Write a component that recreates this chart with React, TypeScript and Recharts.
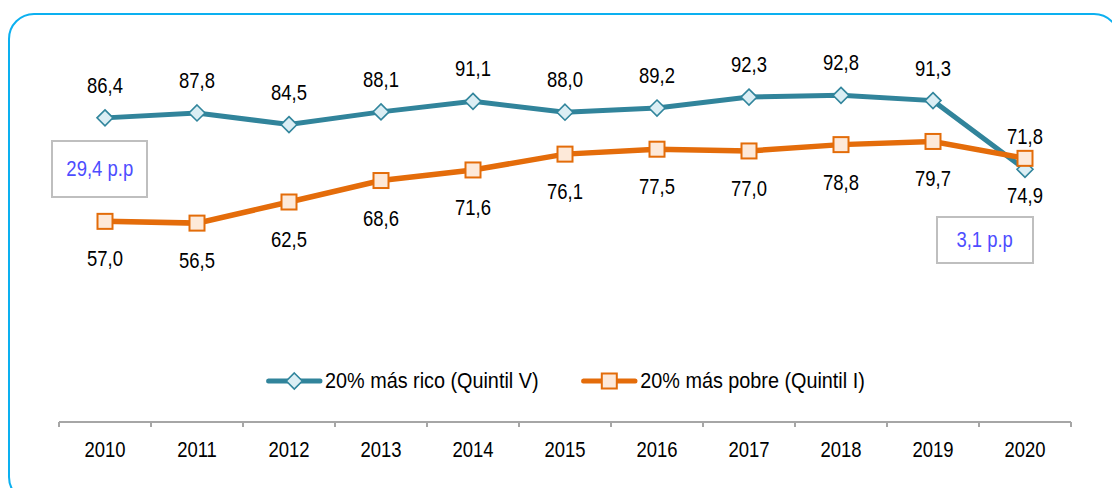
import React from "react";
import { LineChart, Line, XAxis, YAxis, Legend, LabelList } from "recharts";

const years = ["2010", "2011", "2012", "2013", "2014", "2015", "2016", "2017", "2018", "2019", "2020"];
const rico = [86.4, 87.8, 84.5, 88.1, 91.1, 88.0, 89.2, 92.3, 92.8, 91.3, 71.8];
const pobre = [57.0, 56.5, 62.5, 68.6, 71.6, 76.1, 77.5, 77.0, 78.8, 79.7, 74.9];
const seriesNames = ["20% más rico (Quintil V)", "20% más pobre (Quintil I)"];
const gapNotes = ["29,4 p.p", "3,1 p.p"];

const data = years.map((year, i) => ({ idx: i, year, rico: rico[i], pobre: pobre[i] }));
const labelTicks = years.map((_, i) => i);
const boundaryTicks = [...years.map((_, i) => i - 0.5), years.length - 0.5];

// no Arial Narrow here, so Liberation Sans squeezed horizontally
const FONT = "'Liberation Sans', Arial, sans-serif";
const SQUEEZE = 0.84;
const LEGEND_SQUEEZE = 0.9;
const FS = 22;
const RICO_LINE = "#31849b";
const RICO_STROKE = "#31859c";
const RICO_FILL = "#dbeef4";
const POBRE_LINE = "#e46c0a";
const POBRE_STROKE = "#e36c09";
const POBRE_FILL = "#fde9d9";

const fmt = (v: any) => Number(v).toFixed(1).replace(".", ",");

const NarrowText = ({ x, y, children, fill = "#000" }: any) => (
  <text
    x={0}
    y={0}
    textAnchor="middle"
    fill={fill}
    fontSize={FS}
    fontFamily={FONT}
    transform={`translate(${x},${y}) scale(${SQUEEZE},1)`}
  >
    {children}
  </text>
);

const RicoLabel = ({ x, y, value }: any) => <NarrowText x={x} y={y - 25}>{fmt(value)}</NarrowText>;
const PobreLabel = ({ x, y, value }: any) => <NarrowText x={x} y={y + 45}>{fmt(value)}</NarrowText>;
const YearTick = ({ x, y, payload }: any) => <NarrowText x={x} y={y + 15}>{years[payload.value]}</NarrowText>;

const Diamond = ({ cx, cy }: any) => {
  if (cx == null || cy == null) return null;
  const r = 8;
  return (
    <path
      d={`M${cx},${cy - r} L${cx + r},${cy} L${cx},${cy + r} L${cx - r},${cy} Z`}
      fill={RICO_FILL}
      stroke={RICO_STROKE}
      strokeWidth={1.6}
    />
  );
};

const Square = ({ cx, cy }: any) => {
  if (cx == null || cy == null) return null;
  const h = 7.5;
  return <rect x={cx - h} y={cy - h} width={h * 2} height={h * 2} fill={POBRE_FILL} stroke={POBRE_STROKE} strokeWidth={2} />;
};

const LegendContent = () => {
  const k = 1 / LEGEND_SQUEEZE;
  return (
    <div
      style={{
        display: "flex",
        justifyContent: "center",
        gap: 42 * k,
        fontFamily: FONT,
        fontSize: FS,
        color: "#000",
        transform: `scaleX(${LEGEND_SQUEEZE})`,
        transformOrigin: "center",
      }}
    >
      {seriesNames.map((name, i) => (
        <div key={name} style={{ display: "flex", alignItems: "center" }}>
          <svg width={58 * k} height={20}>
            <line x1={3 * k} y1={10} x2={55 * k} y2={10} stroke={i === 0 ? RICO_LINE : POBRE_LINE} strokeWidth={5} strokeLinecap="round" />
            <g transform={`translate(${29 * k},10) scale(${k},1)`}>
              {i === 0 ? <Diamond cx={0} cy={0} /> : <Square cx={0} cy={0} />}
            </g>
          </svg>
          <span style={{ marginLeft: 2 }}>{name}</span>
        </div>
      ))}
    </div>
  );
};

const noteBox: React.CSSProperties = {
  position: "absolute",
  border: "2px solid #bfbfbf",
  boxSizing: "border-box",
  display: "flex",
  alignItems: "center",
  justifyContent: "center",
  color: "#4d4dff",
  fontFamily: FONT,
  fontSize: FS,
  background: "#fff",
};

export default function App() {
  return (
    <div style={{ position: "absolute", left: 0, top: 0, width: 1112, height: 488, overflow: "hidden", background: "#fff" }}>
      <div
        style={{
          position: "absolute",
          left: 8,
          top: 13,
          width: 1112,
          height: 490,
          border: "2px solid #0cb0f0",
          borderRadius: 26,
          boxSizing: "border-box",
        }}
      />
      <LineChart width={1112} height={488} data={data} margin={{ top: 70, right: 41, left: 59, bottom: 35 }} style={{ position: "absolute", left: 0, top: 0 }}>
        <YAxis hide domain={[0, 100]} />
        <XAxis
          xAxisId="grid"
          type="number"
          dataKey="idx"
          domain={[-0.5, years.length - 0.5]}
          ticks={boundaryTicks}
          interval={0}
          height={1}
          tick={() => <g />}
          tickSize={5}
          axisLine={{ stroke: "#a6a6a6", strokeWidth: 2 }}
          tickLine={{ stroke: "#a6a6a6", strokeWidth: 2 }}
        />
        <XAxis
          xAxisId="years"
          type="number"
          dataKey="idx"
          domain={[-0.5, years.length - 0.5]}
          ticks={labelTicks}
          interval={0}
          height={30}
          axisLine={false}
          tickLine={false}
          tickSize={0}
          tickMargin={19}
          tick={<YearTick />}
        />
        <Legend
          verticalAlign="middle"
          align="center"
          content={<LegendContent />}
          wrapperStyle={{ top: 368, left: 59, width: 1012 }}
        />
        <Line
          xAxisId="years"
          dataKey="rico"
          name={seriesNames[0]}
          stroke={RICO_LINE}
          strokeWidth={5}
          dot={<Diamond />}
          activeDot={false}
          isAnimationActive={false}
        >
          <LabelList dataKey="rico" content={<RicoLabel />} />
        </Line>
        <Line
          xAxisId="years"
          dataKey="pobre"
          name={seriesNames[1]}
          stroke={POBRE_LINE}
          strokeWidth={5.5}
          dot={<Square />}
          activeDot={false}
          isAnimationActive={false}
        >
          <LabelList dataKey="pobre" content={<PobreLabel />} />
        </Line>
      </LineChart>
      <div style={{ ...noteBox, left: 51, top: 140, width: 97, height: 58 }}>
        <span style={{ display: "inline-block", transform: `scaleX(${SQUEEZE})` }}>{gapNotes[0]}</span>
      </div>
      <div style={{ ...noteBox, left: 936, top: 216, width: 98, height: 48 }}>
        <span style={{ display: "inline-block", transform: `scaleX(${SQUEEZE})` }}>{gapNotes[1]}</span>
      </div>
    </div>
  );
}
